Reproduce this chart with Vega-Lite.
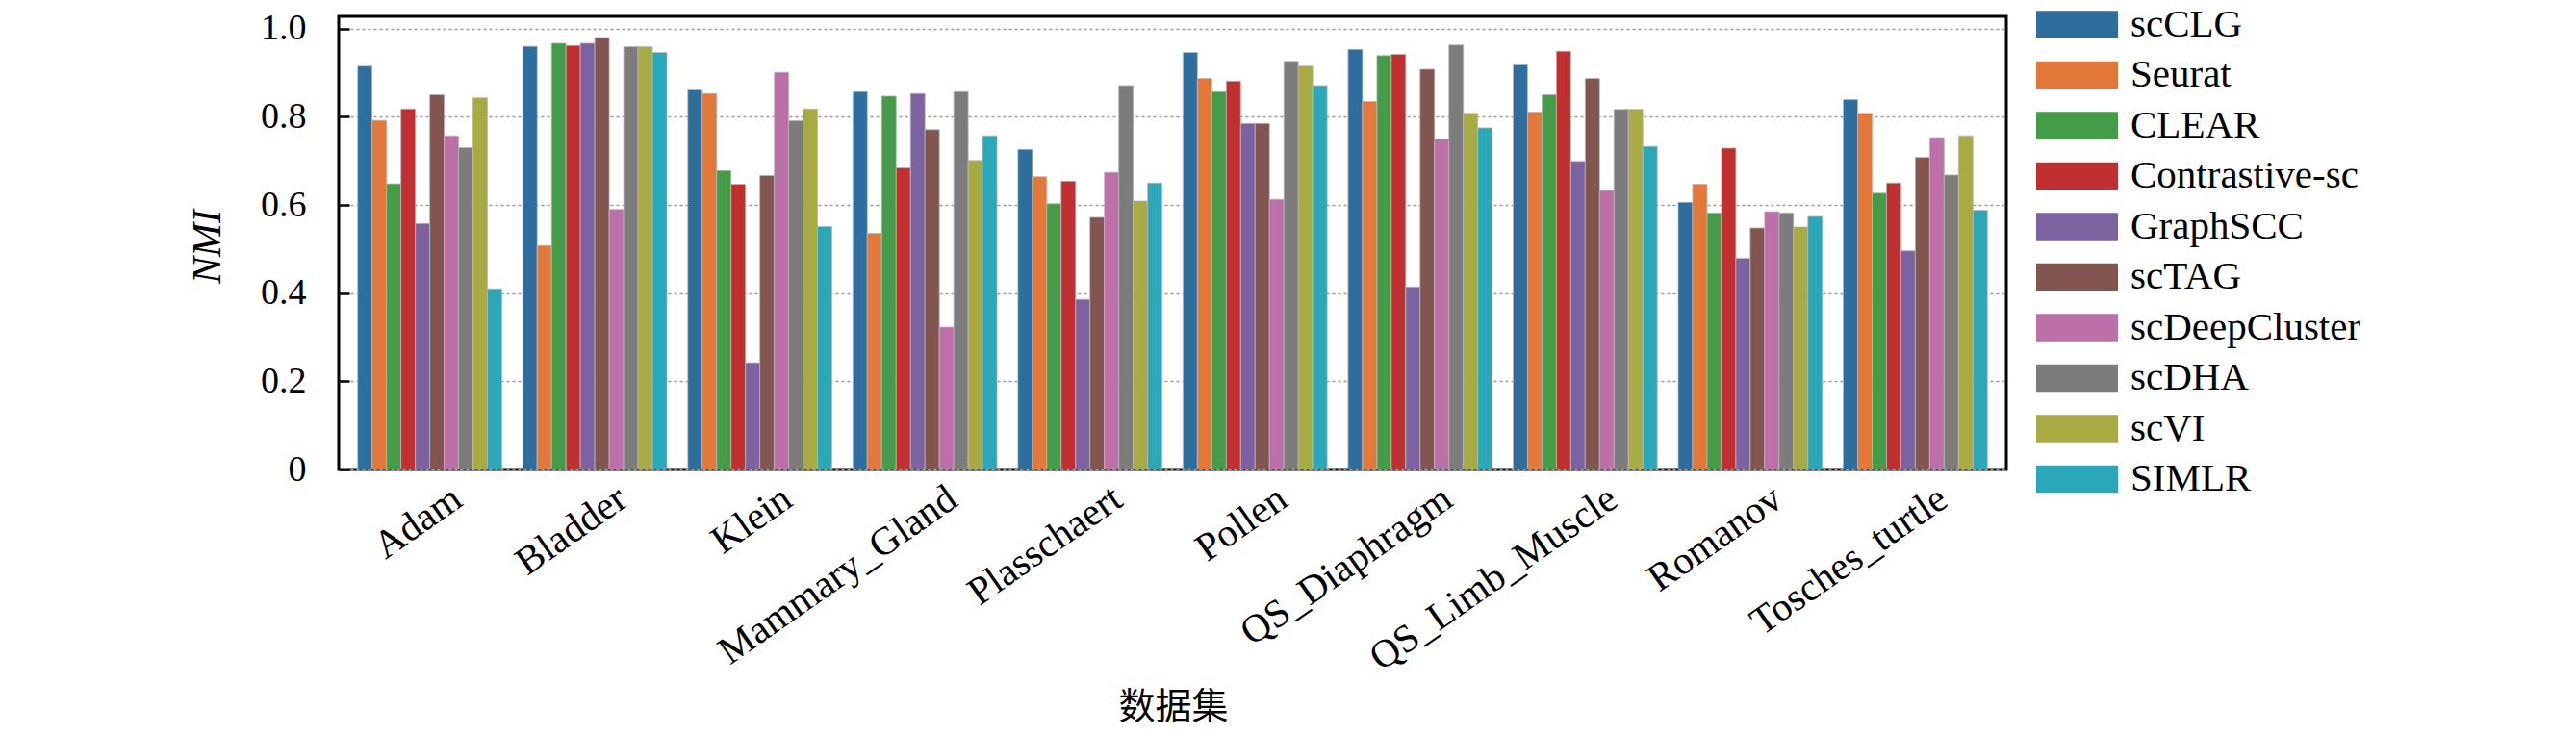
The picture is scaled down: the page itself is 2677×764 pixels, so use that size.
{
  "$schema": "https://vega.github.io/schema/vega-lite/v6.json",
  "width": 1733,
  "height": 471,
  "autosize": {"type": "none"},
  "padding": {"left": 352, "top": 17, "right": 592, "bottom": 276},
  "background": "white",
  "data": {
    "values": [
      {"dataset": "Adam", "method": "scCLG", "NMI": 0.915},
      {"dataset": "Adam", "method": "Seurat", "NMI": 0.792},
      {"dataset": "Adam", "method": "CLEAR", "NMI": 0.648},
      {"dataset": "Adam", "method": "Contrastive-sc", "NMI": 0.818},
      {"dataset": "Adam", "method": "GraphSCC", "NMI": 0.558},
      {"dataset": "Adam", "method": "scTAG", "NMI": 0.85},
      {"dataset": "Adam", "method": "scDeepCluster", "NMI": 0.757},
      {"dataset": "Adam", "method": "scDHA", "NMI": 0.73},
      {"dataset": "Adam", "method": "scVI", "NMI": 0.843},
      {"dataset": "Adam", "method": "SIMLR", "NMI": 0.41},
      {"dataset": "Bladder", "method": "scCLG", "NMI": 0.96},
      {"dataset": "Bladder", "method": "Seurat", "NMI": 0.508},
      {"dataset": "Bladder", "method": "CLEAR", "NMI": 0.967},
      {"dataset": "Bladder", "method": "Contrastive-sc", "NMI": 0.962},
      {"dataset": "Bladder", "method": "GraphSCC", "NMI": 0.967},
      {"dataset": "Bladder", "method": "scTAG", "NMI": 0.98},
      {"dataset": "Bladder", "method": "scDeepCluster", "NMI": 0.59},
      {"dataset": "Bladder", "method": "scDHA", "NMI": 0.959},
      {"dataset": "Bladder", "method": "scVI", "NMI": 0.959},
      {"dataset": "Bladder", "method": "SIMLR", "NMI": 0.946},
      {"dataset": "Klein", "method": "scCLG", "NMI": 0.861},
      {"dataset": "Klein", "method": "Seurat", "NMI": 0.853},
      {"dataset": "Klein", "method": "CLEAR", "NMI": 0.678},
      {"dataset": "Klein", "method": "Contrastive-sc", "NMI": 0.647},
      {"dataset": "Klein", "method": "GraphSCC", "NMI": 0.242},
      {"dataset": "Klein", "method": "scTAG", "NMI": 0.667},
      {"dataset": "Klein", "method": "scDeepCluster", "NMI": 0.901},
      {"dataset": "Klein", "method": "scDHA", "NMI": 0.791},
      {"dataset": "Klein", "method": "scVI", "NMI": 0.818},
      {"dataset": "Klein", "method": "SIMLR", "NMI": 0.551},
      {"dataset": "Mammary_Gland", "method": "scCLG", "NMI": 0.857},
      {"dataset": "Mammary_Gland", "method": "Seurat", "NMI": 0.536},
      {"dataset": "Mammary_Gland", "method": "CLEAR", "NMI": 0.847},
      {"dataset": "Mammary_Gland", "method": "Contrastive-sc", "NMI": 0.684},
      {"dataset": "Mammary_Gland", "method": "GraphSCC", "NMI": 0.853},
      {"dataset": "Mammary_Gland", "method": "scTAG", "NMI": 0.771},
      {"dataset": "Mammary_Gland", "method": "scDeepCluster", "NMI": 0.323},
      {"dataset": "Mammary_Gland", "method": "scDHA", "NMI": 0.857},
      {"dataset": "Mammary_Gland", "method": "scVI", "NMI": 0.701},
      {"dataset": "Mammary_Gland", "method": "SIMLR", "NMI": 0.757},
      {"dataset": "Plasschaert", "method": "scCLG", "NMI": 0.726},
      {"dataset": "Plasschaert", "method": "Seurat", "NMI": 0.664},
      {"dataset": "Plasschaert", "method": "CLEAR", "NMI": 0.603},
      {"dataset": "Plasschaert", "method": "Contrastive-sc", "NMI": 0.654},
      {"dataset": "Plasschaert", "method": "GraphSCC", "NMI": 0.386},
      {"dataset": "Plasschaert", "method": "scTAG", "NMI": 0.572},
      {"dataset": "Plasschaert", "method": "scDeepCluster", "NMI": 0.674},
      {"dataset": "Plasschaert", "method": "scDHA", "NMI": 0.871},
      {"dataset": "Plasschaert", "method": "scVI", "NMI": 0.609},
      {"dataset": "Plasschaert", "method": "SIMLR", "NMI": 0.65},
      {"dataset": "Pollen", "method": "scCLG", "NMI": 0.946},
      {"dataset": "Pollen", "method": "Seurat", "NMI": 0.887},
      {"dataset": "Pollen", "method": "CLEAR", "NMI": 0.857},
      {"dataset": "Pollen", "method": "Contrastive-sc", "NMI": 0.881},
      {"dataset": "Pollen", "method": "GraphSCC", "NMI": 0.785},
      {"dataset": "Pollen", "method": "scTAG", "NMI": 0.785},
      {"dataset": "Pollen", "method": "scDeepCluster", "NMI": 0.613},
      {"dataset": "Pollen", "method": "scDHA", "NMI": 0.926},
      {"dataset": "Pollen", "method": "scVI", "NMI": 0.915},
      {"dataset": "Pollen", "method": "SIMLR", "NMI": 0.871},
      {"dataset": "QS_Diaphragm", "method": "scCLG", "NMI": 0.953},
      {"dataset": "QS_Diaphragm", "method": "Seurat", "NMI": 0.835},
      {"dataset": "QS_Diaphragm", "method": "CLEAR", "NMI": 0.939},
      {"dataset": "QS_Diaphragm", "method": "Contrastive-sc", "NMI": 0.942},
      {"dataset": "QS_Diaphragm", "method": "GraphSCC", "NMI": 0.414},
      {"dataset": "QS_Diaphragm", "method": "scTAG", "NMI": 0.908},
      {"dataset": "QS_Diaphragm", "method": "scDeepCluster", "NMI": 0.75},
      {"dataset": "QS_Diaphragm", "method": "scDHA", "NMI": 0.963},
      {"dataset": "QS_Diaphragm", "method": "scVI", "NMI": 0.808},
      {"dataset": "QS_Diaphragm", "method": "SIMLR", "NMI": 0.775},
      {"dataset": "QS_Limb_Muscle", "method": "scCLG", "NMI": 0.918},
      {"dataset": "QS_Limb_Muscle", "method": "Seurat", "NMI": 0.811},
      {"dataset": "QS_Limb_Muscle", "method": "CLEAR", "NMI": 0.85},
      {"dataset": "QS_Limb_Muscle", "method": "Contrastive-sc", "NMI": 0.949},
      {"dataset": "QS_Limb_Muscle", "method": "GraphSCC", "NMI": 0.699},
      {"dataset": "QS_Limb_Muscle", "method": "scTAG", "NMI": 0.887},
      {"dataset": "QS_Limb_Muscle", "method": "scDeepCluster", "NMI": 0.633},
      {"dataset": "QS_Limb_Muscle", "method": "scDHA", "NMI": 0.817},
      {"dataset": "QS_Limb_Muscle", "method": "scVI", "NMI": 0.817},
      {"dataset": "QS_Limb_Muscle", "method": "SIMLR", "NMI": 0.733},
      {"dataset": "Romanov", "method": "scCLG", "NMI": 0.606},
      {"dataset": "Romanov", "method": "Seurat", "NMI": 0.647},
      {"dataset": "Romanov", "method": "CLEAR", "NMI": 0.582},
      {"dataset": "Romanov", "method": "Contrastive-sc", "NMI": 0.729},
      {"dataset": "Romanov", "method": "GraphSCC", "NMI": 0.479},
      {"dataset": "Romanov", "method": "scTAG", "NMI": 0.548},
      {"dataset": "Romanov", "method": "scDeepCluster", "NMI": 0.585},
      {"dataset": "Romanov", "method": "scDHA", "NMI": 0.582},
      {"dataset": "Romanov", "method": "scVI", "NMI": 0.55},
      {"dataset": "Romanov", "method": "SIMLR", "NMI": 0.574},
      {"dataset": "Tosches_turtle", "method": "scCLG", "NMI": 0.839},
      {"dataset": "Tosches_turtle", "method": "Seurat", "NMI": 0.808},
      {"dataset": "Tosches_turtle", "method": "CLEAR", "NMI": 0.627},
      {"dataset": "Tosches_turtle", "method": "Contrastive-sc", "NMI": 0.65},
      {"dataset": "Tosches_turtle", "method": "GraphSCC", "NMI": 0.496},
      {"dataset": "Tosches_turtle", "method": "scTAG", "NMI": 0.708},
      {"dataset": "Tosches_turtle", "method": "scDeepCluster", "NMI": 0.753},
      {"dataset": "Tosches_turtle", "method": "scDHA", "NMI": 0.668},
      {"dataset": "Tosches_turtle", "method": "scVI", "NMI": 0.757},
      {"dataset": "Tosches_turtle", "method": "SIMLR", "NMI": 0.588}
    ]
  },
  "mark": {"type": "bar", "stroke": "#b8b8b8", "strokeWidth": 0.8},
  "encoding": {
    "x": {
      "field": "dataset", "type": "nominal", "sort": null,
      "scale": {"paddingInner": 0.127, "paddingOuter": 0.115},
      "axis": {
        "title": "数据集", "domain": false, "ticks": false,
        "labelAngle": -35, "labelAlign": "right", "labelBaseline": "alphabetic",
        "labelFont": "Liberation Serif", "labelFontSize": 41, "labelColor": "black",
        "labelPadding": 36, "labelOffset": 36, "labelLimit": 0,
        "titleFont": "Noto Sans CJK SC", "titleFontWeight": "normal", "titleFontSize": 38,
        "titleColor": "black", "titleX": 867, "titleY": 247, "titleBaseline": "middle", "titleAlign": "center"
      }
    },
    "xOffset": {
      "field": "method", "type": "nominal", "sort": null,
      "scale": {"paddingInner": 0, "paddingOuter": 0}
    },
    "y": {
      "field": "NMI", "type": "quantitative",
      "scale": {"domain": [0, 1.028], "nice": false},
      "axis": {
        "title": "NMI", "values": [0, 0.2, 0.4, 0.6, 0.8, 1.0],
        "labelExpr": "datum.value === 0 ? '0' : format(datum.value, '.1f')",
        "domain": false, "grid": true, "gridColor": "#9a9a9a", "gridDash": [3, 3], "gridWidth": 1.5,
        "tickSize": -11, "tickColor": "black", "tickWidth": 2.5,
        "labelFont": "Liberation Serif", "labelFontSize": 38, "labelColor": "black", "labelPadding": 45,
        "titleFont": "Liberation Serif", "titleFontStyle": "italic", "titleFontWeight": "normal",
        "titleFontSize": 42, "titleColor": "black", "titleX": -137, "titleY": 239,
        "titleAngle": -90, "titleAlign": "center", "titleBaseline": "middle"
      }
    },
    "color": {
      "field": "method", "type": "nominal", "sort": null,
      "scale": {
        "domain": ["scCLG", "Seurat", "CLEAR", "Contrastive-sc", "GraphSCC", "scTAG", "scDeepCluster", "scDHA", "scVI", "SIMLR"],
        "range": ["#2d6e9e", "#e2793a", "#459c48", "#c03030", "#7d62a2", "#835550", "#bd70a7", "#7c7c7d", "#a8aa44", "#2aa7b8"]
      },
      "legend": {
        "title": null, "orient": "none", "legendX": 1778, "legendY": -20,
        "symbolType": "M-1.5,-0.5H1.5V0.5H-1.5Z", "symbolSize": 3211, "symbolStrokeWidth": 0,
        "symbolOpacity": 1,
        "labelFont": "Liberation Serif", "labelFontSize": 41, "labelColor": "black",
        "labelOffset": 27, "rowPadding": 3.5, "labelLimit": 400
      }
    }
  },
  "config": {
    "font": "Liberation Serif",
    "view": {"stroke": "black", "strokeWidth": 3}
  }
}
